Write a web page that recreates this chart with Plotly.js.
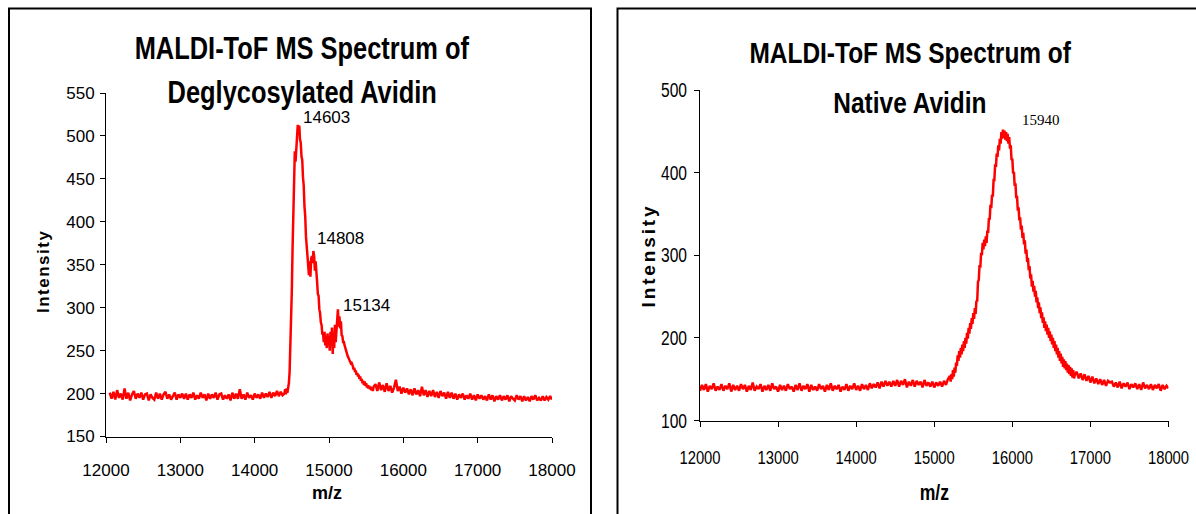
<!DOCTYPE html>
<html>
<head>
<meta charset="utf-8">
<script src="https://cdn.plot.ly/plotly-3.0.1.min.js"></script>
<style>html,body{margin:0;padding:0;background:#fff;}#chart{width:1196px;height:514px;}</style>
</head>
<body>
<div id="chart"></div>
<script>
// ---------- Data ----------
const titleLeft = ["MALDI-ToF MS Spectrum of", "Deglycosylated Avidin"];
const titleRight = ["MALDI-ToF MS Spectrum of", "Native Avidin"];
const xTicks = [12000, 13000, 14000, 15000, 16000, 17000, 18000];
const yTicksLeft = [150, 200, 250, 300, 350, 400, 450, 500, 550];
const yTicksRight = [100, 200, 300, 400, 500];
const peakLabelsLeft = ["14603", "14808", "15134"];
const peakLabelRight = "15940";

// Deglycosylated avidin: baseline 12050..14375 (step 25)
const degA_start = 12050, degA_step = 25;
const degA = [
 201,194,202,193,204,195,200,193,206,194,
 201,192,199,203,194,200,195,201,193,199,
 200,192,199,195,193,201,194,200,193,199,
 202,194,199,193,197,201,193,199,195,200,
 194,200,193,199,195,201,193,198,194,201,
 195,199,192,200,194,199,195,201,193,199,
 200,193,198,194,199,192,201,194,200,194,
 205,194,199,193,201,195,198,193,200,195,
 199,194,201,195,200,196,202,195,201,197,
 203,197,202,198
];
// peak region 14400..15600 (step 10)
const degB_start = 14400, degB_step = 10;
const degB = [
 200,205,199,206,201,207,212,225,250,285,
 320,370,410,455,482,470,490,498,513,503,
 512,496,492,476,472,452,442,418,407,383,
 374,358,350,338,354,336,357,360,352,366,
 360,343,354,333,330,316,314,298,294,283,
 280,270,270,260,272,256,267,253,270,258,
 267,250,272,256,277,246,270,253,280,260,
 277,290,298,278,290,276,284,268,267,260,
 260,256,252,249,247,244,242,240,240,236,
 237,232,232,228,230,225,227,222,224,220,
 222,217,220,215,217,212,215,210,214,209,
 212,207,210,206,209,205,208,204,207,203,
 208
];
// tail 15625..18000 (step 25)
const degC_start = 15625, degC_step = 25;
const degC = [
 211,203,213,204,210,202,212,203,209,201,
 207,216,203,208,200,207,201,206,199,205,
 198,206,199,204,197,208,198,204,196,203,
 197,204,196,202,195,203,197,201,194,202,
 195,201,194,200,193,199,195,200,193,198,
 194,200,193,198,192,199,194,198,193,197,
 192,199,193,198,191,197,193,198,192,197,
 193,198,191,197,194,192,198,193,197,191,
 197,192,196,191,197,193,198,192,195,192,
 197,192,196,193,197,193
];

// Native avidin: baseline 12000..15175 (step 25)
const natA_start = 12000, natA_step = 25;
const natA = [
 136,143,137,144,135,142,138,145,136,141,
 137,144,136,142,138,145,135,143,137,142,
 136,144,138,143,135,142,137,146,136,141,
 138,144,135,142,137,143,136,145,138,141,
 135,143,137,142,136,144,138,141,135,143,
 137,145,136,142,138,144,135,143,137,141,
 136,144,138,142,135,143,137,145,136,142,
 138,143,135,141,137,144,136,142,138,145,
 137,142,136,144,138,143,137,145,139,144,
 140,146,139,147,141,148,142,147,141,148,
 142,149,141,148,143,150,140,147,142,149,
 141,148,143,147,140,149,142,146,141,147,
 140,146,142,147,141,148,143,150
];
// peak 15200..16800 (step 10)
const natB_start = 15200, natB_step = 10;
const natB = [
 154,147,156,150,161,153,164,158,170,166,
 179,172,184,176,188,180,192,184,196,188,
 200,193,206,199,212,205,218,211,224,217,
 230,223,236,229,245,244,268,270,288,285,
 303,300,315,307,319,311,323,315,330,327,
 345,343,361,357,373,371,391,391,410,407,
 423,419,433,427,441,435,449,441,452,442,
 451,440,449,438,447,435,443,429,433,415,
 417,399,401,384,387,369,372,354,358,342,
 346,331,336,321,327,313,318,302,307,292,
 297,282,287,272,277,262,269,256,263,250,
 257,243,249,236,243,230,237,224,231,218,
 225,212,220,208,216,204,212,200,208,196,
 204,192,200,188,196,184,192,180,188,176,
 184,172,181,169,177,165,174,163,172,161,
 169,158,167,156,165,154,163,152,161,151,
 155
];
// tail 16825..18000 (step 25)
const natC_start = 16825, natC_step = 25;
const natC = [
 159,151,157,149,156,148,154,146,153,145,
 151,144,150,143,149,142,148,146,147,141,
 146,140,147,139,145,141,146,138,144,140,
 145,138,144,137,146,139,143,138,144,137,
 143,139,144,136,143,138,142,139
];

// ---------- Build traces ----------
function mz(start, step, vals) { return vals.map((v, i) => start + i * step); }
const degX = [].concat(mz(degA_start, degA_step, degA), mz(degB_start, degB_step, degB), mz(degC_start, degC_step, degC));
const degY = [].concat(degA, degB, degC);
const natX = [].concat(mz(natA_start, natA_step, natA), mz(natB_start, natB_step, natB), mz(natC_start, natC_step, natC));
const natY = [].concat(natA, natB, natC);

const W = 1196, H = 514;
const px = v => v / W;
const py = v => 1 - v / H;

const SANS = "Liberation Sans, Arial, sans-serif";
const SERIF = "Liberation Serif, Times New Roman, serif";

const traces = [
  { x: degX, y: degY, xaxis: 'x', yaxis: 'y', type: 'scatter', mode: 'lines',
    line: { color: '#ff0000', width: 2.5 }, hoverinfo: 'skip' },
  { x: natX, y: natY, xaxis: 'x2', yaxis: 'y2', type: 'scatter', mode: 'lines',
    line: { color: '#ff0000', width: 2.5 }, hoverinfo: 'skip' }
];

const axisCommon = {
  showgrid: false, zeroline: false, showline: true, linecolor: '#000', linewidth: 1,
  ticks: 'outside', ticklen: 5, tickcolor: '#000', tickwidth: 1, fixedrange: true,
  ticklabeloverflow: 'allow'
};

function ann(text, x, y, size, opts) {
  return Object.assign({
    text: text, x: px(x), y: py(y), xref: 'paper', yref: 'paper',
    xanchor: 'center', yanchor: 'middle', showarrow: false,
    font: { family: SANS, size: size, color: '#000' }
  }, opts || {});
}
const BOLD = size => ({ family: SANS, size: size, color: '#000', weight: 'bold' });

const layout = {
  width: W, height: H,
  margin: { l: 0, r: 0, t: 0, b: 0 },
  paper_bgcolor: '#fff', plot_bgcolor: '#fff',
  showlegend: false,
  xaxis: Object.assign({}, axisCommon, {
    domain: [px(106), px(552)], range: [12000, 18000], tickvals: xTicks,
    ticktext: xTicks.map(String), anchor: 'y',
    tickfont: { family: SANS, size: 17, color: '#000' }, ticklabelstandoff: 13
  }),
  yaxis: Object.assign({}, axisCommon, {
    domain: [py(436.5), py(93)], range: [150, 550], tickvals: yTicksLeft,
    ticktext: yTicksLeft.map(String), anchor: 'x',
    tickfont: { family: SANS, size: 17, color: '#000' }, ticklabelstandoff: 2
  }),
  xaxis2: Object.assign({}, axisCommon, {
    domain: [px(700), px(1168.5)], range: [12000, 18000], tickvals: xTicks,
    ticktext: xTicks.map(String), anchor: 'y2',
    tickfont: { family: SANS, size: 19, color: '#000' }, ticklabelstandoff: 15
  }),
  yaxis2: Object.assign({}, axisCommon, {
    domain: [py(420.5), py(90)], range: [100, 500], tickvals: yTicksRight,
    ticktext: yTicksRight.map(String), anchor: 'x2',
    tickfont: { family: SANS, size: 20, color: '#000' }, ticklabelstandoff: 3
  }),
  shapes: [
    { type: 'rect', xref: 'paper', yref: 'paper', x0: px(9), x1: px(591), y0: -0.2, y1: py(8.5),
      line: { color: '#000', width: 2 }, fillcolor: 'rgba(0,0,0,0)', layer: 'below' },
    { type: 'rect', xref: 'paper', yref: 'paper', x0: px(617.5), x1: 1.2, y0: -0.2, y1: py(8.5),
      line: { color: '#000', width: 2 }, fillcolor: 'rgba(0,0,0,0)', layer: 'below' }
  ],
  annotations: [
    ann(titleLeft[0], 302, 48, 31, { font: BOLD(31) }),
    ann(titleLeft[1], 302, 92, 31, { font: BOLD(31) }),
    ann(titleRight[0], 910, 53, 30, { font: BOLD(30) }),
    ann(titleRight[1], 910, 103, 30, { font: BOLD(30) }),
    ann('m/z', 327, 493, 18, { font: BOLD(18) }),
    ann('m/z', 934, 492, 22, { font: BOLD(22) }),
    ann('Intensity', 43, 272, 17, { font: BOLD(17), textangle: -90 }),
    ann('Intensity', 648, 257, 19, { font: BOLD(19), textangle: -90 }),
    ann(peakLabelsLeft[0], 326, 118, 17),
    ann(peakLabelsLeft[1], 340, 238, 17),
    ann(peakLabelsLeft[2], 366, 305, 17),
    ann(peakLabelRight, 1041, 120, 15, { font: { family: SERIF, size: 15, color: '#000' } })
  ]
};

function fitText(el, targetWidth, mode) {
  el.setAttribute('textLength', targetWidth);
  el.setAttribute('lengthAdjust', mode);
}
function squeeze(el, factor) {
  const L = el.getComputedTextLength();
  fitText(el, (L * factor).toFixed(1), 'spacingAndGlyphs');
}

Plotly.newPlot('chart', traces, layout, { staticPlot: true, displayModeBar: false }).then(function (gd) {
  // The reference uses a condensed (narrow) face: squeeze glyphs horizontally.
  const anns = gd.querySelectorAll('.annotation-text');
  anns.forEach(function (t, i) {
    const s = t.textContent;
    if (i <= 3) squeeze(t, i <= 1 ? 0.82 : 0.815);
    else if (s === 'm/z' && i === 5) squeeze(t, 0.8);
    else if (s === 'Intensity') fitText(t, i === 6 ? 82 : 101, 'spacing');
  });
  gd.querySelectorAll('g.x2tick text, g.y2tick text').forEach(function (t) { squeeze(t, 0.78); });
});
</script>
</body>
</html>
